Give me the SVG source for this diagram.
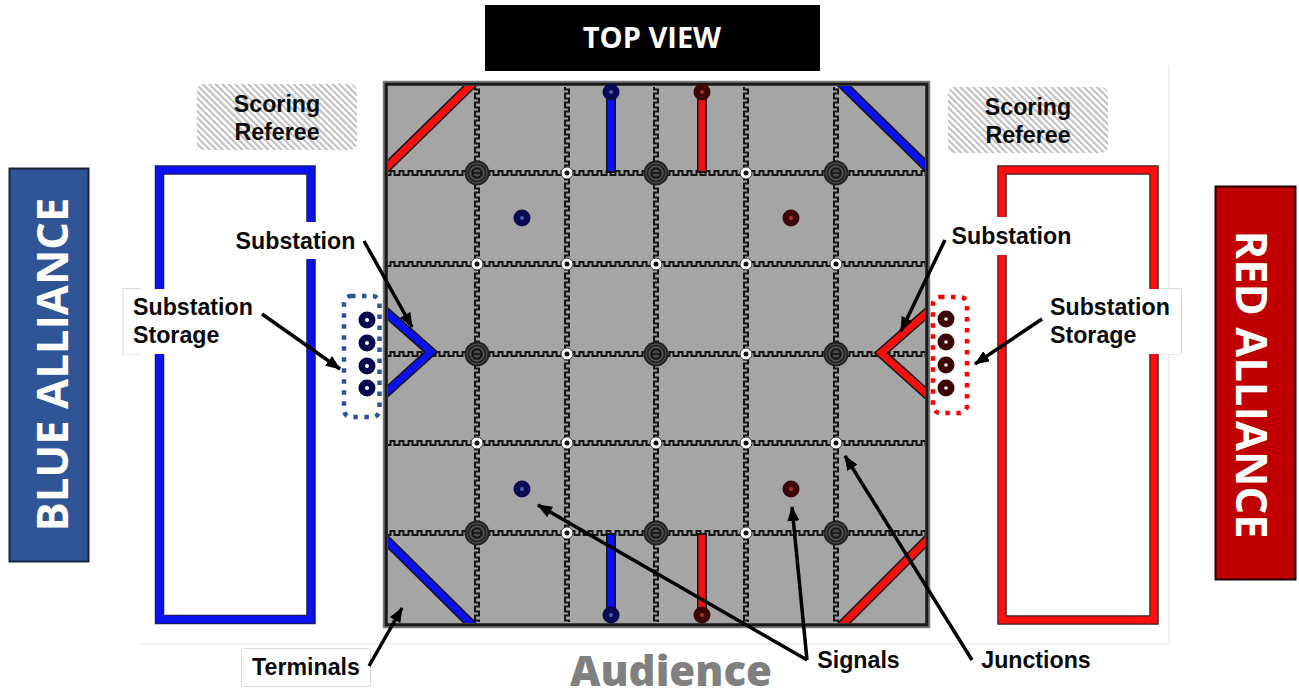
<svg xmlns="http://www.w3.org/2000/svg" width="1299" height="698" viewBox="0 0 1299 698">
<style>
text{font-family:"Liberation Sans",Arial,sans-serif;font-weight:700;font-size:23.200px;fill:#0a0a0a}
.os{font-family:"Open Sans","Liberation Sans",sans-serif;font-weight:700}
.lab{fill:#fff}
.edge{fill:#fff;stroke:#d9d9d9;stroke-width:1}
.bo{fill:none;stroke:#1a1a60;stroke-width:9.500}
.bi{fill:none;stroke:#0a10f0;stroke-width:7}
.ro{fill:none;stroke:#3a2020;stroke-width:9.500}
.ri{fill:none;stroke:#ff0f0f;stroke-width:7}
.ko{fill:none;stroke:#151515;stroke-width:10;stroke-linejoin:miter}
.kb{fill:none;stroke:#0a10f0;stroke-width:7;stroke-linejoin:miter}
.kr{fill:none;stroke:#f5100f;stroke-width:7;stroke-linejoin:miter}
.arrow{fill:none;stroke:#000;stroke-width:3.500;marker-end:url(#ah)}
</style>
<defs>
<marker id="ah" markerUnits="userSpaceOnUse" markerWidth="15" markerHeight="12" refX="14" refY="6" orient="auto"><path d="M0 0L15 6L0 12z" fill="#000"/></marker>
<pattern id="hatch" width="4.600" height="4.600" patternUnits="userSpaceOnUse" patternTransform="rotate(-45)"><rect width="4.600" height="4.600" fill="#fff"/><rect width="2.100" height="4.600" fill="#bfbfbf"/></pattern>
<pattern id="wh" width="9" height="8" patternUnits="userSpaceOnUse"><path d="M0 6H2.500V2H6.500V6H9" fill="none" stroke="#151515" stroke-width="2"/></pattern>
<pattern id="wv" width="8" height="9" patternUnits="userSpaceOnUse"><path d="M2 0V2.500H6V6.500H2V9" fill="none" stroke="#151515" stroke-width="2"/></pattern>
<rect id="hl" width="537" height="8" fill="url(#wh)"/>
<rect id="vl" width="8" height="535" fill="url(#wv)"/>
<clipPath id="inner"><rect x="388" y="86" width="537" height="537"/></clipPath>
<g id="hi"><circle r="12.500" fill="#222"/><circle r="10" fill="none" stroke="#555" stroke-width="1"/><circle r="7" fill="#333" stroke="#666" stroke-width="1"/><circle r="4.500" fill="#4a4a4a" stroke="#111" stroke-width="1.500"/><path d="M-4 0H4" stroke="#111" stroke-width="1.500"/></g>
<g id="lo"><circle r="6" fill="#fff" stroke="#333" stroke-width="1"/><circle r="2.500" fill="#111"/></g>
<g id="sb"><circle r="8.500" fill="#0a0a55"/><circle r="2" fill="#4a5fae"/></g>
<g id="sr"><circle r="8.500" fill="#3d0707"/><circle r="2" fill="#b03030"/></g>
<g id="pb"><circle r="8.500" fill="#08084f"/><circle r="2" fill="#fff"/></g>
<g id="pr"><circle r="8.500" fill="#3d0707"/><circle r="1.800" fill="#fff"/></g>
</defs>
<rect width="1299" height="698" fill="#fff"/>
<path d="M1169 65V644H140" fill="none" stroke="#e3e3e3" stroke-width="1"/>
<g id="top-view"><rect x="485" y="5" width="335" height="66" fill="#000"/><text class="os" x="652" y="48" text-anchor="middle" style="font-size:29px;fill:#fff">TOP VIEW</text></g>
<g id="blue-alliance"><rect x="9.500" y="168.500" width="79" height="393" fill="#2f5597" stroke="#1a2440" stroke-width="2"/><text class="os" transform="translate(68 364.500) rotate(-90)" text-anchor="middle" style="font-size:43.600px;fill:#fff">BLUE ALLIANCE</text></g>
<g id="red-alliance"><rect x="1215.500" y="186.500" width="80" height="393" fill="#c00000" stroke="#200505" stroke-width="2"/><text class="os" transform="translate(1236 384.500) rotate(90)" text-anchor="middle" style="font-size:43.600px;fill:#fff">RED ALLIANCE</text></g>
<g id="scoring-referee-blue"><rect x="197" y="84" width="160" height="66" rx="7" fill="url(#hatch)"/><text x="277" y="112" text-anchor="middle">Scoring</text><text x="277" y="140" text-anchor="middle">Referee</text></g>
<g id="scoring-referee-red"><rect x="948" y="87" width="160" height="66" rx="7" fill="url(#hatch)"/><text x="1028" y="115" text-anchor="middle">Scoring</text><text x="1028" y="143" text-anchor="middle">Referee</text></g>
<g id="blue-station"><rect x="159.500" y="170" width="151.500" height="449.500" class="bo"/><rect x="159.500" y="170" width="151.500" height="449.500" class="bi"/></g>
<g id="red-station"><rect x="1002" y="170" width="152" height="450" class="ro"/><rect x="1002" y="170" width="152" height="450" class="ri"/></g>
<g id="field">
<rect x="386" y="84" width="541" height="541" fill="#a5a5a5"/>
<use href="#hl" x="388" y="169"/><use href="#hl" x="388" y="260"/><use href="#hl" x="388" y="350"/><use href="#hl" x="388" y="439"/><use href="#hl" x="388" y="529"/>
<use href="#vl" x="473" y="87"/><use href="#vl" x="563" y="87"/><use href="#vl" x="652" y="87"/><use href="#vl" x="742" y="87"/><use href="#vl" x="832" y="87"/>
</g>
<g id="terminals" clip-path="url(#inner)">
<path class="ko" d="M384 170L474 82M839 81L929 169M384 538L473 626M929 538L841 626M611 92V173M702 92V173M611 533V615M702 533V615"/>
<path class="kr" d="M384 170L474 82M929 538L841 626M702 92V171M702 535V615"/>
<path class="kb" d="M839 81L929 169M384 538L473 626M611 92V171M611 535V615"/>
<path class="ko" d="M384 310.500L431 352L384 394.500M930 310L881 353L930 397"/>
<path class="kb" d="M384 310.500L431 352L384 394.500"/>
<path class="kr" d="M930 310L881 353L930 397"/>
</g>
<g id="frame"><rect x="386" y="84" width="541" height="541" fill="none" stroke="#1a1a1a" stroke-width="3.500"/>
<path d="M383 81.500H930M383 627.500H930M383.500 81V628M929.500 81V628" fill="none" stroke="#7a7a7a" stroke-width="1.500"/></g>
<g id="junctions">
<use href="#hi" x="477" y="173"/><use href="#hi" x="656" y="173"/><use href="#hi" x="836" y="173"/>
<use href="#hi" x="477" y="354"/><use href="#hi" x="656" y="354"/><use href="#hi" x="836" y="354"/>
<use href="#hi" x="477" y="533"/><use href="#hi" x="656" y="533"/><use href="#hi" x="836" y="533"/>
<use href="#lo" x="567" y="173"/><use href="#lo" x="746" y="173"/>
<use href="#lo" x="477" y="264"/><use href="#lo" x="567" y="264"/><use href="#lo" x="656" y="264"/><use href="#lo" x="746" y="264"/><use href="#lo" x="836" y="264"/>
<use href="#lo" x="567" y="354"/><use href="#lo" x="746" y="354"/>
<use href="#lo" x="477" y="443"/><use href="#lo" x="567" y="443"/><use href="#lo" x="656" y="443"/><use href="#lo" x="746" y="443"/><use href="#lo" x="836" y="443"/>
<use href="#lo" x="567" y="533"/><use href="#lo" x="746" y="533"/>
</g>
<g id="signals">
<use href="#sb" x="522" y="218"/><use href="#sr" x="791" y="218"/><use href="#sb" x="522" y="489"/><use href="#sr" x="791" y="489"/>
<use href="#sb" x="611" y="92"/><use href="#sr" x="702" y="92"/><use href="#sb" x="611" y="615"/><use href="#sr" x="702" y="615"/>
</g>
<g id="substation-storage-blue"><rect x="344" y="296" width="35.500" height="121" rx="7" fill="none" stroke="#2f5597" stroke-width="4.500" stroke-dasharray="4.500 6.500"/><use href="#pb" x="367" y="320"/><use href="#pb" x="367" y="343"/><use href="#pb" x="367" y="366"/><use href="#pb" x="367" y="388"/></g>
<g id="substation-storage-red"><rect x="933" y="297" width="34" height="116" rx="7" fill="none" stroke="#ff0000" stroke-width="4.500" stroke-dasharray="4.500 6.500"/><use href="#pr" x="946" y="319"/><use href="#pr" x="946" y="342"/><use href="#pr" x="946" y="365"/><use href="#pr" x="946" y="388"/></g>
<g id="label-substation-left"><rect x="232" y="222" width="128" height="37" class="lab"/><text x="295.500" y="249" text-anchor="middle">Substation</text></g>
<g id="label-substation-right"><rect x="948" y="217" width="128" height="38" class="lab"/><text x="1011.500" y="244" text-anchor="middle">Substation</text></g>
<g id="label-storage-left"><path d="M141 288.500H123V354H141" class="edge"/><rect x="124" y="289" width="132" height="65" class="lab"/><text x="133" y="315">Substation</text><text x="133" y="343">Storage</text></g>
<g id="label-storage-right"><path d="M1160 288.500H1181.500V354H1160" class="edge"/><rect x="1047" y="289" width="134" height="65" class="lab"/><text x="1050" y="315">Substation</text><text x="1050" y="343">Storage</text></g>
<g id="label-terminals"><rect x="241.500" y="648.500" width="129" height="38" rx="2" class="edge"/><text x="306" y="675" text-anchor="middle">Terminals</text></g>
<g id="label-signals"><text x="858.500" y="668" text-anchor="middle">Signals</text></g>
<g id="label-junctions"><text x="1036" y="668" text-anchor="middle">Junctions</text></g>
<g id="label-audience"><text class="os" x="671" y="686" text-anchor="middle" style="font-size:42px;font-weight:800;fill:#808080">Audience</text></g>
<g id="connectors">
<path class="arrow" d="M364 241L412 327"/>
<path class="arrow" d="M262 314L340 369"/>
<path class="arrow" d="M945 240L901 331"/>
<path class="arrow" d="M1042 319L975 364"/>
<path class="arrow" d="M369 666L402 608"/>
<path class="arrow" d="M807 660L538 505"/>
<path class="arrow" d="M807 660L792 507"/>
<path class="arrow" d="M972 660L845 456"/>
</g>
</svg>
